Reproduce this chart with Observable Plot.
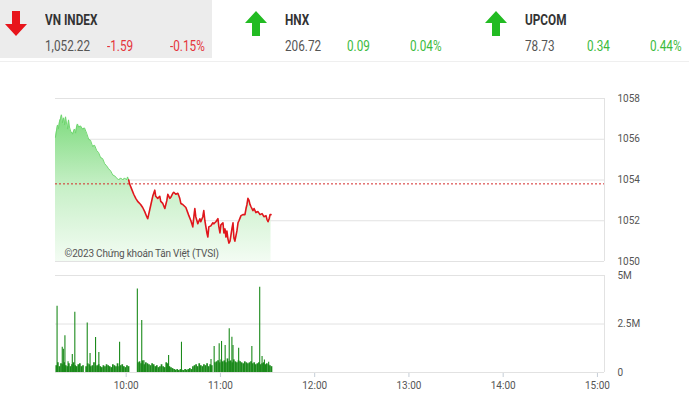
<!DOCTYPE html>
<html>
<head>
<meta charset="utf-8">
<script src="https://cdn.jsdelivr.net/npm/d3@7"></script>
<script src="https://cdn.jsdelivr.net/npm/@observablehq/plot@0.6"></script>
<style>
  html, body { margin: 0; padding: 0; background: #fff; }
  body { width: 689px; height: 402px; overflow: hidden; position: relative; font-family: Roboto, sans-serif; }
  .vnbox { position: absolute; left: 0; top: 0; width: 212px; height: 58px; background: #ececec; }
  .sep { position: absolute; left: 0; top: 61px; width: 689px; height: 1px; background: #efefef; }
  .t { position: absolute; white-space: nowrap; transform: scaleX(0.84); transform-origin: left center; line-height: 16px; }
  .title { font-weight: 700; font-size: 14px; color: #333; top: 12px; }
  .val { font-size: 14px; color: #555; top: 38px; }
  .neg { color: #e5343a; }
  .pos { color: #3dbb3d; }
  .arrow { position: absolute; }
  #price { position: absolute; left: 0; top: 88px; }
  #vol { position: absolute; left: 0; top: 265px; }
  #vol g[aria-label="x-axis tick"] { stroke: #c6ced8; }
  #vol g[aria-label="x-axis"] .tick line { stroke: #c6ced8; }
</style>
</head>
<body>
<div id="hdr"></div>
<div id="price"></div>
<div id="vol"></div>
<script>
// ---------- data ----------
const indexNames = ["VN INDEX", "HNX", "UPCOM"];
const indexLevels = [1052.22, 206.72, 78.73];
const indexChanges = [-1.59, 0.09, 0.34];
const indexPercents = [-0.15, 0.04, 0.44];

const sessionStart = [9, 15];          // 09:15
const referenceLevel = 1053.81;
const priceTicks = [1050, 1052, 1054, 1056, 1058];
const volumeTicks = [0, 2.5, 5];       // millions
const caption = "©2023 Chứng khoán Tân Việt (TVSI)";

// minutes after 09:15
const priceMinutes = [0,0.6,1.3,1.9,2.6,3.2,3.8,4.5,5.1,5.7,6.4,7.0,7.7,8.3,8.9,9.6,10.8,12.1,12.8,13.4,14,14.7,16,17.2,18.5,19.8,21.1,22.3,23.6,24.9,26.2,27.4,28.7,30,31.3,32.5,33.8,35.1,36.4,37.7,38.9,40.2,41.5,42.8,44,45.3,45.9,46.6,47.2,48.5,49.8,51.1,52.3,54.2,55.5,56.8,58.1,58.7,59.3,60.6,61.9,63.2,63.8,65.1,66.4,67,68.3,69.6,70.9,71.5,72.8,73.4,74.7,75.3,76.6,77.9,79.1,79.8,81,83,84.2,84.9,86.2,87.4,88.1,88.7,89.3,90.6,91.9,92.5,93.8,94.4,95.1,96.4,97,97.6,98.9,100.2,100.8,102.1,103.4,104,104.7,105.3,106.6,107.2,107.9,108.5,109.1,109.8,110.4,111.1,111.7,112.3,113,113.6,114.2,115.5,116.2,116.8,118.1,119.3,120.6,121.3,121.9,122.5,123.2,123.8,124.4,125.7,126.4,127.6,128.9,130.2,131.5,132.7,134,134.7,135.3,136,136.6,137.2];
const priceValues = [1056.1,1056.4,1056.7,1056.5,1056.9,1057.0,1057.2,1056.8,1057.05,1056.7,1057.1,1056.8,1056.5,1056.95,1056.6,1056.4,1056.25,1056.5,1056.3,1056.6,1056.75,1056.6,1056.65,1056.5,1056.55,1056.3,1056.0,1055.95,1055.65,1055.7,1055.45,1055.35,1055.1,1055.05,1054.8,1054.7,1054.55,1054.45,1054.25,1054.2,1054.1,1054.0,1054.1,1054.0,1054.1,1054.0,1054.15,1054.0,1053.8,1053.55,1053.3,1053.1,1052.95,1052.8,1052.65,1052.45,1052.2,1052.1,1052.3,1052.75,1053.2,1053.5,1053.2,1053.1,1053.2,1052.95,1052.85,1052.6,1053.0,1053.3,1053.1,1053.15,1053.35,1053.4,1053.3,1053.35,1053.1,1052.85,1052.8,1052.65,1052.4,1052.25,1052.0,1051.7,1052.2,1052.6,1052.2,1051.85,1052.1,1051.95,1052.2,1052.5,1052.0,1051.4,1051.2,1051.7,1051.75,1051.9,1051.85,1051.95,1052.1,1051.7,1051.4,1051.8,1051.9,1051.4,1051.6,1051.2,1051.5,1051.1,1050.9,1051.0,1051.3,1051.6,1051.9,1051.15,1051.0,1051.5,1051.9,1052.0,1052.25,1052.3,1052.3,1052.6,1052.8,1053.1,1053.0,1052.8,1052.7,1052.5,1052.6,1052.4,1052.45,1052.3,1052.35,1052.2,1052.25,1052.05,1051.95,1052.1,1052.3,1052.3];

// volume per minute after 09:15, millions
const volumeBase = [
  0.35,0.5,0.3,0.45,0.4,0.5,0.35,0.3,0.45,0.3,0.4,0.5,0.35,0.3,0.4,0.45,0.3,0.35,
  0,
  0.3,0.45,0.4,0.3,0.35,0.5,0.3,0.35,0.4,0.3,0.25,0.35,0.3,0.4,0.35,0.3,0.25,0.4,0.35,0.3,0.45,0.3,0.35,0.4,0.3,0.25,0.35,0.3,
  0,0,0,0,0,
  0.5,0.55,0.45,0.6,0.4,0.5,0.45,0.4,0.35,0.45,0.4,
  0.3,0.35,0.25,0.3,0.4,0.3,0.25,0.5,0.45,0.3,0.25,0.2,
  0.15,0.12,0.15,0.1,0.15,0.12,0.1,0.15,0.12,0.15,0.2,0.15,
  0.3,0.35,0.4,0.3,0.45,0.35,0.3,0.4,0.35,0.45,0.3,0.4,0.35,
  0,
  0.5,0.55,0.6,0.5,0.65,0.55,0.6,0.5,0.7,0.55,0.6,0.5,0.65,0.55,0.5,0.6,0.55,0.5,0.45,0.55,0.5,0.45,0.5,0.55,0.45,0.5,0.4,0.45,0.5,0.4,0.45,0.5,0.4,0.45,0.4,0.35,0.3
];
const spikeMinutes = [1,4.3,5,6,8,10.7,12.3,20.2,22,25.5,27.6,40.8,52.1,54.9,56.3,72,80.2,99,101,104.2,105.7,108,110.6,112.3,113,116.6,125,130,131.5,133,135.7];
const spikeValues  = [3.42,1.3,1.2,1.9,0.55,0.93,3.1,2.55,0.98,1.8,1.03,1.56,4.3,2.68,0.6,0.88,1.56,0.67,1.34,1.48,1.6,1.39,2.25,1.82,1.39,1.25,1.34,4.4,0.82,0.65,0.53];

// ---------- helpers ----------
const t0 = new Date(2023, 0, 2, sessionStart[0], sessionStart[1]);
const toDate = m => new Date(t0.getTime() + m * 60000);
const xDomain = [toDate(0), toDate(349.5)];
const green = "#6fd66f", red = "#e0161c", volGreen = "#1b8a1b", grid = "#e2e2e2";

// ---------- header ----------
const hdr = document.getElementById("hdr");
hdr.innerHTML = '<div class="vnbox"></div><div class="sep"></div>';
const fmtLevel = d3.format(",.2f");
const lefts = [45, 285, 525];
indexNames.forEach((name, i) => {
  const L = lefts[i];
  const up = indexChanges[i] >= 0;
  const cls = up ? "pos" : "neg";
  const col = up ? "#22bb22" : "#e8141b";
  const arrowPath = up
    ? "M11 0 L22 12 L15 12 L15 25 L7 25 L7 12 L0 12 Z"
    : "M11 25 L22 13 L15 13 L15 0 L7 0 L7 13 L0 13 Z";
  hdr.insertAdjacentHTML("beforeend",
    `<svg class="arrow" style="left:${L - 40}px;top:11px" width="22" height="25"><path d="${arrowPath}" fill="${col}"/></svg>` +
    `<div class="t title" style="left:${L}px">${name}</div>` +
    `<div class="t val" style="left:${L}px">${fmtLevel(indexLevels[i])}</div>` +
    `<div class="t val ${cls}" style="left:${L + 62}px">${indexChanges[i].toFixed(2)}</div>` +
    `<div class="t val ${cls}" style="left:${L + 125}px">${indexPercents[i].toFixed(2)}%</div>`);
});

// ---------- price chart ----------
const pts = priceMinutes.map((m, i) => ({date: toDate(m), v: priceValues[i], side: priceValues[i] >= referenceLevel ? "up" : "down"}));
const segs = [];
let run = 0;
pts.forEach((p, i) => {
  if (i > 0 && p.side !== pts[i - 1].side) { run++; segs.push({...pts[i - 1], run, side: p.side}); }
  segs.push({...p, run});
});

const priceSvg = Plot.plot({
  width: 689, height: 180,
  marginTop: 10, marginBottom: 7, marginLeft: 55, marginRight: 85,
  style: {fontFamily: "Roboto, sans-serif", fontSize: "10px", color: "#555", background: "transparent"},
  x: {type: "time", domain: xDomain, axis: null},
  y: {domain: [1050, 1058], axis: null},
  color: {type: "identity"},
  marks: [
    Plot.ruleY(priceTicks, {stroke: grid}),
    Plot.areaY(pts, {x: "date", y1: 1050, y2: "v", fill: "url(#greenFade)", curve: "linear"}),
    Plot.ruleY([referenceLevel], {stroke: "#d42a2a", strokeDasharray: "2,2", strokeWidth: 1}),
    Plot.line(segs, {x: "date", y: "v", z: "run", stroke: d => d.side === "up" ? green : red, strokeWidth: 1, strokeLinejoin: "round"}),
    Plot.ruleX([xDomain[1]], {stroke: grid}),
    Plot.text(priceTicks, {y: d => d, text: d => String(d), frameAnchor: "right", textAnchor: "start", dx: 13, fill: "#555"}),
    Plot.text([caption], {text: d => d, frameAnchor: "bottom-left", textAnchor: "start", lineAnchor: "middle", dx: 9, dy: -8, fill: "#555", fontSize: 10, letterSpacing: "-0.2px"})
  ]
});
d3.select(priceSvg).insert("defs", ":first-child").html(
  '<linearGradient id="greenFade" x1="0" y1="0" x2="0" y2="1">' +
  '<stop offset="0" stop-color="#7edb7e"/>' +
  '<stop offset="0.5" stop-color="#c8f0c8"/>' +
  '<stop offset="1" stop-color="#f3fcf3"/></linearGradient>');
d3.select(priceSvg).selectAll("path").filter(function() { return this.getAttribute("stroke") === red; }).attr("stroke-width", 1.6);
d3.select(priceSvg).selectAll("text").filter(function() { return this.textContent === caption; }).style("letter-spacing", "-0.2px");
document.getElementById("price").appendChild(priceSvg);

// ---------- volume chart ----------
const base = volumeBase.map((v, i) => ({date: toDate(i + 0.5), v})).filter(d => d.v > 0);
const spikes = spikeMinutes.map((m, i) => ({date: toDate(m), v: spikeValues[i]}));
const fmtVol = d => d === 0 ? "0" : d + "M";

const volSvg = Plot.plot({
  width: 689, height: 137,
  marginTop: 10, marginBottom: 30, marginLeft: 55, marginRight: 85,
  style: {fontFamily: "Roboto, sans-serif", fontSize: "10px", color: "#555", background: "transparent"},
  x: {type: "time", domain: xDomain, ticks: 6, tickFormat: d3.timeFormat("%H:%M"), tickSize: 5, tickPadding: 4, label: null},
  y: {domain: [0, 5], axis: null},
  marks: [
    Plot.ruleY(volumeTicks, {stroke: grid}),
    Plot.ruleX(base, {x: "date", y1: 0, y2: "v", stroke: volGreen, strokeWidth: 1.7}),
    Plot.ruleX(spikes, {x: "date", y1: 0, y2: "v", stroke: volGreen, strokeWidth: 1.1}),
    Plot.ruleX([xDomain[1]], {stroke: grid}),
    Plot.text(volumeTicks, {y: d => d, text: fmtVol, frameAnchor: "right", textAnchor: "start", dx: 13, fill: "#555"})
  ]
});
document.getElementById("vol").appendChild(volSvg);
</script>
</body>
</html>
